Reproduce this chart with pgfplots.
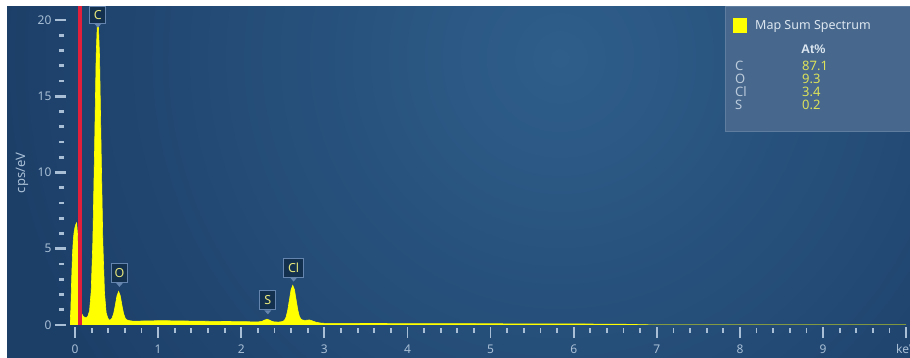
\documentclass[border=0pt]{standalone}
\usepackage{fontspec}
\setmainfont{Noto Sans}
\newfontfamily\legbold{Liberation Sans}
\usepackage{pgfplots}
\pgfplotsset{compat=1.18}
\definecolor{bgdark}{HTML}{1C3F68}
\definecolor{bglight}{HTML}{2F5E8B}
\definecolor{tickc}{HTML}{A9BFD6}
\definecolor{redc}{HTML}{E2203C}
\definecolor{boxfill}{HTML}{14304F}
\definecolor{boxborder}{HTML}{6685AE}
\definecolor{labtext}{HTML}{E8E87A}
\definecolor{legfill}{HTML}{47688C}
\definecolor{legborder}{HTML}{5F7E9F}
\definecolor{legtext}{HTML}{DCE6F0}
\definecolor{legval}{HTML}{DCE25A}
\definecolor{legel}{HTML}{BCCBDC}
\definecolor{specy}{HTML}{FFFF00}
\begin{document}
\begin{tikzpicture}
\begin{pgfinterruptboundingbox}
\begin{scope}
\clip (7pt,-10pt) rectangle (930pt,352pt);
\fill[bgdark] (0pt,-10pt) rectangle (930pt,360pt);
\shade[inner color=bglight, outer color=bgdark] (560pt,300pt) circle (560pt);
\end{scope}
\fill[white] (-5pt,352pt) rectangle (930pt,365pt);
\fill[white] (-5pt,-10pt) rectangle (7pt,365pt);
\node[rotate=90, text=tickc, font=\fontsize{13}{15}\selectfont] at (22pt,185pt) {cps/eV};
\begin{axis}[
  at={(70pt,33pt)}, anchor=south west,
  scale only axis, width=836.2pt, height=318.7pt,
  xmin=-0.06, xmax=10.0, ymin=0, ymax=20.9,
  axis line style={draw=none},
  tick align=outside,
  xtick pos=bottom, ytick pos=left,
  xtick={0,1,2,3,4,5,6,7,8,9,10},
  xticklabels={0,1,2,3,4,5,6,7,8,9,keV},
  ytick={0,5,10,15,20},
  minor x tick num=4, minor y tick num=4,
  major tick length=11pt, minor tick length=5pt,
  every tick/.style={draw=tickc, line width=2.2pt},
  major x tick style={yshift=-2pt, line width=1.8pt},
  minor x tick style={yshift=-3pt, line width=1.8pt},
  major y tick style={xshift=-4pt, line width=2.6pt},
  minor y tick style={xshift=-6pt, line width=2.6pt},
  /pgf/number format/assume math mode=true,
  ticklabel style={text=tickc, font=\fontsize{12}{14}\selectfont},
  xticklabel style={yshift=-5pt},
  yticklabel style={xshift=-4pt},
  clip mode=individual,
]
\addplot[draw=specy, fill=specy, line width=0.6pt] coordinates {
(-0.06,0) (-0.05,1.0) (-0.04,3.0) (-0.03,4.6) (-0.02,5.6) (-0.01,6.1) (0.00,6.4) (0.01,6.6) (0.02,6.7) (0.03,6.0) (0.04,4.5) (0.05,3.0) (0.06,1.8) (0.07,1.1) (0.08,0.75) (0.10,0.55) (0.12,0.5) (0.14,0.5) (0.155,0.58) (0.175,0.92) (0.195,2.21) (0.215,5.48) (0.235,11.3) (0.255,17.7) (0.275,20.6) (0.295,17.7) (0.315,11.3) (0.335,5.4) (0.355,2.1) (0.375,0.8) (0.395,0.45) (0.41,0.33) (0.425,0.33) (0.445,0.44) (0.465,0.74) (0.485,1.29) (0.505,1.91) (0.525,2.2) (0.545,1.91) (0.565,1.29) (0.585,0.74) (0.605,0.44) (0.625,0.33) (0.66,0.28) (0.7,0.25) (0.8,0.26) (0.9,0.27) (1.0,0.28) (1.1,0.28) (1.2,0.27) (1.35,0.26) (1.5,0.25) (1.65,0.24) (1.8,0.23) (2.0,0.22) (2.2,0.2) (2.25,0.24) (2.28,0.32) (2.31,0.38) (2.34,0.32) (2.37,0.24) (2.40,0.2) (2.45,0.19) (2.50,0.23) (2.52,0.31) (2.54,0.52) (2.56,0.98) (2.58,1.66) (2.60,2.32) (2.62,2.6) (2.64,2.32) (2.66,1.66) (2.68,1.0) (2.70,0.55) (2.72,0.38) (2.74,0.32) (2.77,0.3) (2.80,0.32) (2.82,0.33) (2.85,0.28) (2.90,0.18) (2.95,0.13) (3.0,0.11) (3.5,0.1) (4.0,0.09) (5.0,0.08) (6.0,0.07) (6.6,0.05) (7.0,0.0) (10.0,0)
} \closedcycle;
\addplot[draw=redc, line width=4pt] coordinates {(0.06,0) (0.06,20.9)};
\tikzset{peaklab/.style={draw=boxborder, fill=boxfill, text=labtext, line width=1pt,
  font=\fontsize{12.5}{13}\selectfont, inner sep=1pt, minimum width=16pt, minimum height=19pt, anchor=south}}
\node[peaklab, minimum height=17pt] (nc) at (axis cs:0.276,19.5) [yshift=4pt] {C};
\node[peaklab] (no) at (axis cs:0.535,2.5) [yshift=4pt] {O};
\node[peaklab] (ns) at (axis cs:2.32,0.7) [yshift=4pt] {S};
\node[peaklab, minimum width=20pt] (ncl) at (axis cs:2.63,2.85) [yshift=4pt] {Cl};
\end{axis}
\fill[boxborder] (nc.south) ++(-3.5pt,0) -- ++(7pt,0) -- ++(-3.5pt,-4pt) -- cycle;
\fill[boxborder] (no.south) ++(-3.5pt,0) -- ++(7pt,0) -- ++(-3.5pt,-4pt) -- cycle;
\fill[boxborder] (ns.south) ++(-3.5pt,0) -- ++(7pt,0) -- ++(-3.5pt,-4pt) -- cycle;
\fill[boxborder] (ncl.south) ++(-3.5pt,0) -- ++(7pt,0) -- ++(-3.5pt,-4pt) -- cycle;
% legend panel
\fill[legfill, draw=legborder, line width=1pt] (725pt,226pt) rectangle (918pt,351pt);
\fill[specy] (733pt,325pt) rectangle (747pt,340pt);
\node[anchor=west, text=legtext, font=\fontsize{12.5}{14}\selectfont, inner sep=0] at (755pt,332pt) {Map Sum Spectrum};
\node[anchor=west, text=legtext, font=\legbold\bfseries\fontsize{12.5}{14}\selectfont, inner sep=0] at (801pt,309pt) {At\%};
\foreach \el/\val/\yy in {C/87.1/292, O/9.3/279, Cl/3.4/266, S/0.2/253}{
  \node[anchor=west, text=legel, font=\fontsize{13}{14}\selectfont, inner sep=0] at (735pt,\yy pt) {\el};
  \node[anchor=west, text=legval, font=\fontsize{13}{14}\selectfont, inner sep=0] at (802pt,\yy pt) {\val};
}
\end{pgfinterruptboundingbox}
\path (0pt,0pt) rectangle (910pt,358pt);
\end{tikzpicture}
\end{document}
